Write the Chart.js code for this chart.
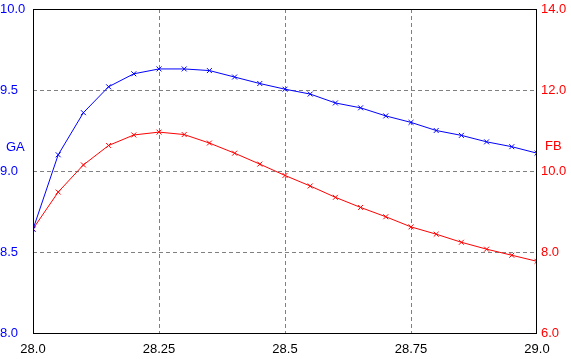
<!DOCTYPE html>
<html>
<head>
<meta charset="utf-8">
<script src="https://cdn.jsdelivr.net/npm/chart.js@4/dist/chart.umd.min.js"></script>
<style>
  html, body { margin: 0; padding: 0; background: #fff; }
  #wrap { width: 571px; height: 359px; }
</style>
</head>
<body>
<div id="wrap"><canvas id="myChart"></canvas></div>
<script>
'use strict';

// x positions of the samples
var xValues = [28.0, 28.05, 28.1, 28.15, 28.2, 28.25, 28.3, 28.35, 28.4, 28.45, 28.5,
               28.55, 28.6, 28.65, 28.7, 28.75, 28.8, 28.85, 28.9, 28.95, 29.0];
// GA, left axis
var gaValues = [8.64, 9.10, 9.36, 9.52, 9.60, 9.63, 9.63, 9.62, 9.58, 9.54, 9.505,
                9.475, 9.42, 9.39, 9.34, 9.30, 9.25, 9.22, 9.18, 9.15, 9.11];
// FB, right axis
var fbValues = [8.57, 9.48, 10.15, 10.63, 10.89, 10.96, 10.90, 10.69, 10.44, 10.17, 9.89,
                9.63, 9.35, 9.10, 8.87, 8.62, 8.44, 8.24, 8.07, 7.92, 7.77];
var xTicks = [28.0, 28.25, 28.5, 28.75, 29.0];

function pts(ys) {
    return xValues.map(function (x, i) { return { x: x, y: ys[i] }; });
}

var font = { family: 'Liberation Sans, Arial, sans-serif', size: 13 };
var gridColor = function (c) {
    return (c.index === 0 || c.index === c.scale.ticks.length - 1) ? 'rgba(0,0,0,0)' : '#808080';
};
// keep the plot box where the reference has it, labels may overhang
function noPad(s) { s.paddingTop = 0; s.paddingBottom = 0; }

var frame = {
    id: 'frame',
    afterDraw: function (chart) {
        var ctx = chart.ctx, a = chart.chartArea;
        ctx.save();
        ctx.strokeStyle = '#000';
        ctx.lineWidth = 1;
        ctx.strokeRect(Math.round(a.left) + 0.5, Math.round(a.top) + 0.5,
                       Math.round(a.right - a.left) - 1, Math.round(a.bottom - a.top));
        ctx.font = '13px Liberation Sans, Arial, sans-serif';
        ctx.textBaseline = 'middle';
        ctx.textAlign = 'left';
        ctx.fillStyle = '#0000ff';
        ctx.fillText('GA', 6, 147);
        ctx.fillStyle = '#ff0000';
        ctx.fillText('FB', 545, 146);
        ctx.restore();
    }
};

const ctx = document.getElementById('myChart');

new Chart(ctx, {
    type: 'line',
    data: {
        datasets: [{
            label: 'GA',
            data: pts(gaValues),
            yAxisID: 'y',
            borderColor: '#0000ff',
            backgroundColor: '#0000ff',
            borderWidth: 1,
            pointStyle: 'crossRot',
            pointRadius: 3.5,
            pointBorderWidth: 1,
            tension: 0
        }, {
            label: 'FB',
            data: pts(fbValues),
            yAxisID: 'y2',
            borderColor: '#ff0000',
            backgroundColor: '#ff0000',
            borderWidth: 1,
            pointStyle: 'crossRot',
            pointRadius: 3.5,
            pointBorderWidth: 1,
            tension: 0
        }]
    },
    options: {
        responsive: true,
        maintainAspectRatio: false,
        animation: false,
        layout: { padding: { top: 9, left: 0, right: 0, bottom: 0 } },
        plugins: { legend: { display: false }, tooltip: { enabled: false } },
        elements: { point: { hoverRadius: 3.5 } },
        scales: {
            x: {
                type: 'linear',
                min: 28, max: 29,
                afterBuildTicks: function (s) { s.ticks = xTicks.map(function (v) { return { value: v }; }); },
                afterFit: function (s) { s.height = 26; },
                border: { display: false, dash: [4, 3] },
                grid: { color: gridColor, drawTicks: false, tickLength: 0 },
                ticks: {
                    color: '#000', font: font, padding: 9, maxRotation: 0,
                    callback: function (v) { return Number.isInteger(v) ? v.toFixed(1) : String(v); }
                }
            },
            y: {
                position: 'left',
                min: 8, max: 10,
                afterFit: function (s) { s.width = 33; noPad(s); },
                border: { display: false, dash: [4, 3] },
                grid: { color: gridColor, drawTicks: false, tickLength: 0 },
                ticks: {
                    stepSize: 0.5, color: '#0000ff', font: font, crossAlign: 'far', padding: 8,
                    callback: function (v) { return v.toFixed(1); }
                }
            },
            y2: {
                position: 'right',
                min: 6, max: 14,
                afterFit: function (s) { s.width = 34; noPad(s); },
                border: { display: false },
                grid: { drawOnChartArea: false, drawTicks: false, tickLength: 0 },
                ticks: {
                    stepSize: 2, color: '#ff0000', font: font, padding: 4,
                    callback: function (v) { return v.toFixed(1); }
                }
            }
        }
    },
    plugins: [frame]
});
</script>
</body>
</html>
